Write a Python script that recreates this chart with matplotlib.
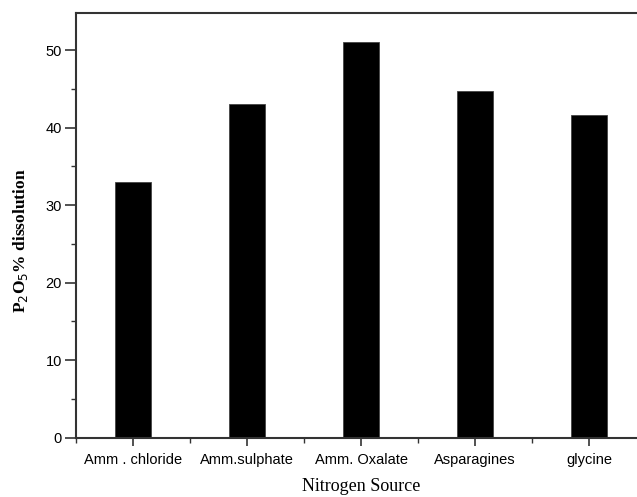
import matplotlib
matplotlib.use("Agg")
import matplotlib.pyplot as plt
from matplotlib.ticker import MultipleLocator

sources = ["Amm . chloride", "Amm.sulphate", "Amm. Oxalate", "Asparagines", "glycine"]
dissolution = [33.0, 43.0, 51.0, 44.8, 41.7]

fig = plt.figure(figsize=(6.37, 4.97), dpi=100)
# right edge of the frame falls outside the picture (cropped original)
ax = fig.add_axes([0.1193, 0.1193, 0.895, 0.8545])

x = list(range(len(sources)))
ax.bar(x, dissolution, width=0.32, color="black", edgecolor="#444444", linewidth=0.6)

ax.set_xlim(-0.5, 4.5)
ax.set_ylim(0, 54.8)
ax.set_xticks(x)
ax.set_xticklabels(sources, fontsize=10.5, family="Liberation Sans")
ax.xaxis.set_minor_locator(MultipleLocator(0.5))
ax.yaxis.set_major_locator(MultipleLocator(10))
ax.yaxis.set_minor_locator(MultipleLocator(5))
for lab in ax.get_yticklabels():
    lab.set_fontsize(10.5)
    lab.set_family("Liberation Sans")

ax.tick_params(axis="y", which="major", direction="out", length=8, width=1.2, color="#333333", pad=2)
ax.tick_params(axis="x", which="major", direction="out", length=6, width=1.2, color="#333333", pad=5)
ax.tick_params(which="minor", direction="out", length=3.5, width=1.0, color="#333333")
for sp in ax.spines.values():
    sp.set_linewidth(1.5)
    sp.set_color("#333333")

ax.set_ylabel("P$_2$O$_5$% dissolution", family="Liberation Serif", fontsize=12.5,
              fontweight="bold")
ax.yaxis.set_label_coords(-0.08, 0.465)
ax.set_xlabel("Nitrogen Source", family="Liberation Serif", fontsize=13, labelpad=8)

fig.savefig("out.png", dpi=100)
